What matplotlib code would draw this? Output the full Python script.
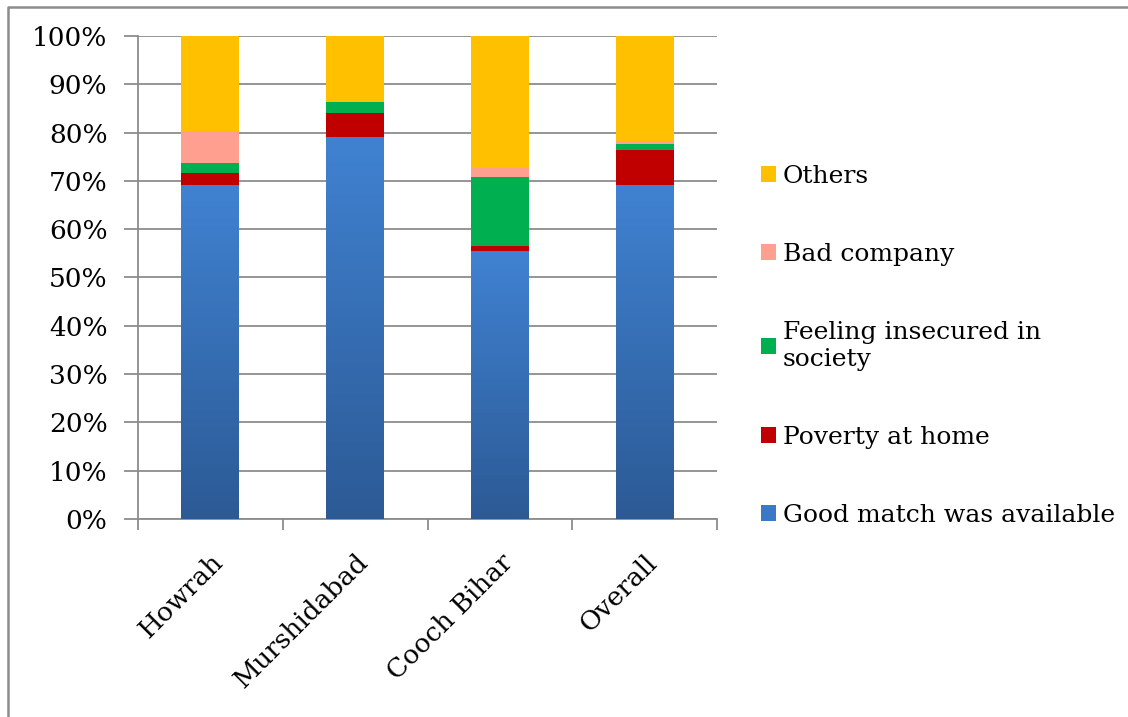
import numpy as np
import matplotlib
matplotlib.use('Agg')
import matplotlib.pyplot as plt
from matplotlib.patches import Patch
from matplotlib.lines import Line2D
from matplotlib.colors import LinearSegmentedColormap
from matplotlib.ticker import PercentFormatter

# data (% share of each reason)
districts = ['Howrah', 'Murshidabad', 'Cooch Bihar', 'Overall']
good_match = [69.2, 79.1, 55.5, 69.2]
poverty = [2.4, 5.0, 1.1, 7.2]
insecure = [2.2, 2.3, 14.2, 1.2]
bad_company = [6.5, 0.0, 1.9, 0.6]
others = [19.7, 13.6, 27.3, 21.8]

series = [
    ('Good match was available', good_match, '#3B78C6'),
    ('Poverty at home', poverty, '#C00000'),
    ('Feeling insecured in\nsociety', insecure, '#00B050'),
    ('Bad company', bad_company, '#FF9F8F'),
    ('Others', others, '#FFC000'),
]

plt.rcParams['font.family'] = 'DejaVu Serif'
plt.rcParams['font.size'] = 18

fig = plt.figure(figsize=(11.28, 7.17), dpi=100)
ax = fig.add_axes([138/1128, 1 - 519/717, (717 - 138)/1128, (519 - 36)/717])

x = np.arange(len(districts))
bottom = np.zeros(len(districts))
blue_cmap = LinearSegmentedColormap.from_list('blu', ['#2C5A95', '#4082D2'])
handles = []
for name, vals, col in series:
    vals = np.array(vals)
    bars = ax.bar(x, vals, 0.4, bottom=bottom, color=col, linewidth=0, zorder=3)
    if name.startswith('Good'):
        grad = np.linspace(0, 1, 256).reshape(-1, 1)
        for b in bars:
            bx, by = b.get_x(), b.get_y()
            im = ax.imshow(grad, extent=[bx, bx + b.get_width(), by, by + b.get_height()],
                           origin='lower', aspect='auto', cmap=blue_cmap, zorder=4)
            im.set_clip_path(b)
    bottom += vals
    handles.append(Patch(facecolor=col, label=name))

ax.set_xlim(-0.5, len(districts) - 0.5)
ax.set_ylim(0, 100)
ax.set_yticks(np.arange(0, 101, 10))
ax.yaxis.set_major_formatter(PercentFormatter(decimals=0))
ax.yaxis.grid(True, color='#8C8C8C', linewidth=1.3, zorder=0)
ax.set_axisbelow(True)
ax.tick_params(axis='y', labelsize=19, length=10, width=1.3, color='#8C8C8C', pad=12)

ax.set_xticks(x)
ax.set_xticklabels(districts, rotation=45, ha='right', va='top', rotation_mode='anchor')
ax.set_xticks(np.arange(-0.5, len(districts), 1), minor=True)
ax.tick_params(axis='x', which='major', labelsize=19, length=0, pad=22)
ax.tick_params(axis='x', which='minor', length=8, width=1.3, color='#8C8C8C', direction='out')

for s in ['top', 'right']:
    ax.spines[s].set_visible(False)
for s in ['left', 'bottom']:
    ax.spines[s].set_color('#8C8C8C')
    ax.spines[s].set_linewidth(1.3)

leg = fig.legend(handles[::-1], [h.get_label() for h in handles[::-1]],
                 loc='center left', bbox_to_anchor=(748/1128, 1 - 346/717),
                 frameon=False, handlelength=0.6, handleheight=0.6,
                 handletextpad=0.3, labelspacing=2.2, borderpad=0)

# outer border (top and left edges visible)
fig.add_artist(Line2D([8/1128, 8/1128, 1.0], [0.0, 1 - 6.5/717, 1 - 6.5/717],
                      transform=fig.transFigure, color='#8C8C8C', linewidth=1.8))

fig.savefig('out.png', dpi=100)
